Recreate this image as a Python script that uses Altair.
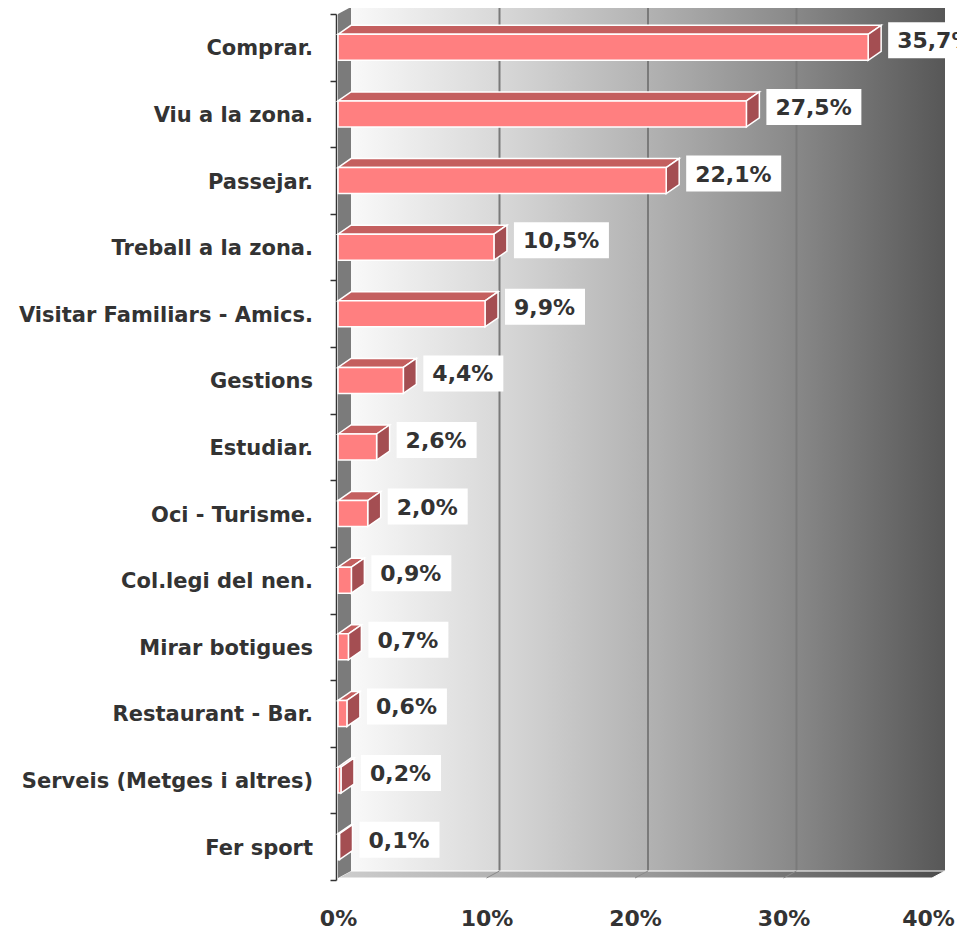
import altair as alt
import pandas as pd

# ---------------- data ----------------
categories = [
    "Comprar.", "Viu a la zona.", "Passejar.", "Treball a la zona.",
    "Visitar Familiars - Amics.", "Gestions", "Estudiar.", "Oci - Turisme.",
    "Col.legi del nen.", "Mirar botigues", "Restaurant - Bar.",
    "Serveis (Metges i altres)", "Fer sport",
]
values = [35.7, 27.5, 22.1, 10.5, 9.9, 4.4, 2.6, 2.0, 0.9, 0.7, 0.6, 0.2, 0.1]
x_ticks = [0, 10, 20, 30, 40]
grid_values = [10, 20, 30]

# ---------------- geometry / style ----------------
FONT = "DejaVu Sans"
W, H = 594, 866
XMAX = 40
N = len(categories)
XPU = W / XMAX          # px per percent
YPU = H / N             # px per category row
DXU = 13 / XPU          # 3D depth, x (data units)
DYU = 9 / YPU           # 3D depth for bars, y (data units)
DYWU = 7 / YPU          # 3D depth for walls, y
HU = 26 / YPU           # bar front height
FB = N - 2 / YPU        # floor front edge

XS = alt.Scale(domain=[0, XMAX], nice=False, zero=False)
YS = alt.Scale(domain=[0, N], reverse=True, nice=False, zero=False)
XAX = alt.Axis(values=x_ticks, labelExpr="datum.value + '%'", title=None,
               domain=False, ticks=False, grid=False, labelFont=FONT,
               labelFontSize=22, labelFontWeight="bold", labelColor="#333333",
               labelPadding=28, labelFlush=False, labelOverlap=False,
               labelOffset={"condition": {"test": "datum.value == 40", "value": -4},
                            "value": 0})
YAX = alt.Axis(values=list(range(N + 1)), labels=False, title=None, grid=False,
               domainColor="#333333", domainWidth=1.5, tickColor="#333333",
               tickWidth=1.5, tickSize=6, offset=2)


def X(f):
    return alt.X(f, type="quantitative", scale=XS, axis=XAX)


def Y(f):
    return alt.Y(f, type="quantitative", scale=YS, axis=YAX)


# bars table
df = pd.DataFrame({"cat": categories, "val": values, "idx": list(range(N))})
df["yc"] = df["idx"] + 0.5

# top faces (parallelograms) and side faces of bars
top_rows, side_rows = [], []
for c, v, yc in zip(df["cat"], df["val"], df["yc"]):
    yt = yc - HU / 2
    yb = yc + HU / 2
    for x in sorted({0.0, DXU, v, v + DXU}):
        up = yt - DYU * min(x / DXU, 1)
        lo = yt - DYU * max(0.0, (x - v) / DXU)
        top_rows.append({"cat": c, "x": x, "y": up, "y2": lo})
    for x in (v, v + DXU):
        k = (x - v) / DXU
        side_rows.append({"cat": c, "x": x, "y": yt - DYU * k, "y2": yb - DYU * k})
top_df = pd.DataFrame(top_rows)
side_df = pd.DataFrame(side_rows)

# frame: back wall, floor, left wall
back_df = pd.DataFrame({"x": [DXU, XMAX + DXU], "y": [-DYWU] * 2, "y2": [FB - DYWU] * 2})
floor_rows = []
for x in [0.0, DXU, XMAX, XMAX + DXU]:
    floor_rows.append({"x": x, "y": FB - DYWU * min(x / DXU, 1),
                       "y2": FB - DYWU * max(0.0, (x - XMAX) / DXU)})
floor_df = pd.DataFrame(floor_rows)
lwall_df = pd.DataFrame({"x": [0.0, DXU], "y": [0.0, -DYWU], "y2": [FB, FB - DYWU]})
grid_df = pd.DataFrame({"g": grid_values})
grid_df["gb"] = grid_df["g"] + DXU
grid_df["ytop"] = -DYWU - 3 / YPU
grid_df["ybot"] = FB - DYWU
grid_df["yf"] = FB

back_grad = alt.Gradient(gradient="linear", x1=0, x2=1, y1=0, y2=0, stops=[
    alt.GradientStop(offset=0, color="#f9f9f9"),
    alt.GradientStop(offset=0.25, color="#d8d8d8"),
    alt.GradientStop(offset=0.5, color="#b2b2b2"),
    alt.GradientStop(offset=0.75, color="#888888"),
    alt.GradientStop(offset=1, color="#575757"),
])
floor_grad = alt.Gradient(gradient="linear", x1=0, x2=1, y1=0, y2=0, stops=[
    alt.GradientStop(offset=0, color="#cdcdcd"),
    alt.GradientStop(offset=0.5, color="#9a9a9a"),
    alt.GradientStop(offset=1, color="#4c4c4c"),
])

back = alt.Chart(back_df).mark_area(fill=back_grad, opacity=1, orient="vertical").encode(
    x=X("x"), y=Y("y"), y2="y2")
grid_back = alt.Chart(grid_df).mark_rule(color="#7a7a7a", strokeWidth=2).encode(
    x=X("gb"), y=Y("ytop"), y2="ybot")
floor = alt.Chart(floor_df).mark_area(fill=floor_grad, opacity=1, orient="vertical",
                                      stroke="white", strokeWidth=1).encode(
    x=X("x"), y=Y("y"), y2="y2")
grid_floor = alt.Chart(grid_df).mark_rule(color="#8a8a8a", strokeWidth=1).encode(
    x=X("g"), x2="gb", y=Y("yf"), y2="ybot")
lwall = alt.Chart(lwall_df).mark_area(color="#7b7b7b", opacity=1, orient="vertical").encode(
    x=X("x"), y=Y("y"), y2="y2")

top_face = alt.Chart(top_df).mark_area(color="#c45f5f", opacity=1, orient="vertical",
                                       stroke="white", strokeWidth=1.5).encode(
    x=X("x"), y=Y("y"), y2="y2", detail="cat:N")
side_face = alt.Chart(side_df).mark_area(color="#a44e52", opacity=1, orient="vertical",
                                         stroke="white", strokeWidth=1.5).encode(
    x=X("x"), y=Y("y"), y2="y2", detail="cat:N")

base = alt.Chart(df)
front = base.mark_rect(color="#ff7f80", stroke="white", strokeWidth=1.5,
                       yOffset=-13, y2Offset=13).encode(
    x=X("val"), x2=alt.X2Datum(0), y=Y("yc"), y2="yc")

cat_text = base.mark_text(align="right", baseline="middle", dx=-25, dy=2, font=FONT,
                          fontSize=21, fontWeight="bold", color="#333333").encode(
    x=alt.XDatum(0, type="quantitative", scale=XS, axis=XAX), y=Y("yc"), text="cat:N")

lab = base.transform_calculate(lbl="replace(format(datum.val, '.1f'), '.', ',') + '%'")
box4 = lab.transform_filter("length(datum.lbl) <= 4").mark_rect(
    fill="white", xOffset=20, x2Offset=100, yOffset=-25, y2Offset=11).encode(
    x=X("val"), x2="val", y=Y("yc"), y2="yc")
box5 = lab.transform_filter("length(datum.lbl) > 4").mark_rect(
    fill="white", xOffset=20, x2Offset=115, yOffset=-25, y2Offset=11).encode(
    x=X("val"), x2="val", y=Y("yc"), y2="yc")
val_text = lab.mark_text(align="left", baseline="middle", dx=29, dy=-6, font=FONT,
                         fontSize=22, fontWeight="bold", color="#333333").encode(
    x=X("val"), y=Y("yc"), text="lbl:N")

chart = alt.layer(
    back, grid_back, floor, grid_floor, lwall,
    top_face, side_face, front, box4, box5, val_text, cat_text,
).properties(
    width=W, height=H,
    padding={"left": 330, "top": 6, "right": 25, "bottom": 50},
    autosize=alt.AutoSizeParams(type="none"),
    background="white",
).configure_view(stroke=None)

chart.save("out.html", embed_options={"renderer": "svg", "actions": False})
